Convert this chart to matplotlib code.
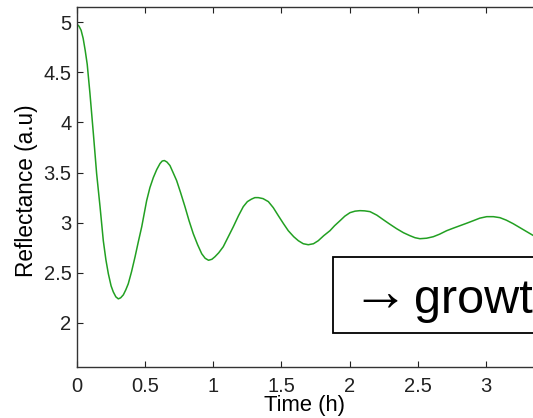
import matplotlib
matplotlib.use("Agg")
import matplotlib.pyplot as plt
from matplotlib.patches import Rectangle

plt.rcParams['font.family'] = ['Liberation Sans', 'DejaVu Sans']

# Data
time_h = [0.0, 0.015, 0.03, 0.045, 0.06, 0.075, 0.095, 0.12, 0.144, 0.169, 0.193,
          0.212, 0.23, 0.25, 0.266, 0.285, 0.303, 0.32, 0.34, 0.358, 0.376, 0.40,
          0.426, 0.45, 0.475, 0.511, 0.535, 0.56, 0.585, 0.609, 0.625, 0.641, 0.66,
          0.682, 0.705, 0.731, 0.76, 0.792, 0.822, 0.853, 0.885, 0.915, 0.94, 0.965,
          0.99, 1.012, 1.04, 1.073, 1.11, 1.147, 1.185, 1.22, 1.25, 1.28, 1.305,
          1.33, 1.365, 1.404, 1.44, 1.477, 1.515, 1.55, 1.59, 1.624, 1.66, 1.697,
          1.735, 1.77, 1.81, 1.856, 1.89, 1.93, 1.965, 2.003, 2.04, 2.076, 2.11,
          2.15, 2.2, 2.247, 2.295, 2.345, 2.395, 2.443, 2.48, 2.516, 2.565, 2.614,
          2.66, 2.712, 2.76, 2.81, 2.86, 2.908, 2.955, 3.006, 3.055, 3.103, 3.15,
          3.2, 3.25, 3.30, 3.35]
reflectance = [4.98, 4.96, 4.92, 4.84, 4.72, 4.58, 4.29, 3.89, 3.49, 3.16, 2.82,
               2.63, 2.49, 2.37, 2.31, 2.26, 2.24, 2.25, 2.28, 2.33, 2.39, 2.51,
               2.66, 2.81, 2.96, 3.22, 3.35, 3.45, 3.53, 3.59, 3.615, 3.62, 3.605,
               3.57, 3.50, 3.42, 3.30, 3.16, 3.02, 2.89, 2.78, 2.69, 2.645, 2.625,
               2.635, 2.66, 2.70, 2.76, 2.86, 2.96, 3.07, 3.16, 3.21, 3.235, 3.25,
               3.25, 3.24, 3.21, 3.15, 3.07, 2.99, 2.92, 2.86, 2.82, 2.79, 2.78,
               2.79, 2.82, 2.87, 2.92, 2.97, 3.02, 3.065, 3.10, 3.115, 3.12, 3.118,
               3.11, 3.075, 3.03, 2.985, 2.94, 2.90, 2.87, 2.85, 2.84, 2.845, 2.86,
               2.885, 2.92, 2.945, 2.97, 2.995, 3.02, 3.045, 3.06, 3.06, 3.05, 3.025,
               2.99, 2.95, 2.91, 2.87]
x_ticks = [0, 0.5, 1, 1.5, 2, 2.5, 3]
x_tick_labels = ['0', '0.5', '1', '1.5', '2', '2.5', '3']
y_ticks = [2, 2.5, 3, 3.5, 4, 4.5, 5]
y_tick_labels = ['2', '2.5', '3', '3.5', '4', '4.5', '5']
arrow_text = '\u2192'
word_text = 'growth'

W, H = 533, 418
fig = plt.figure(figsize=(W / 100, H / 100), dpi=100)
xmax = 3.5
px_per_unit = 136.3
ax_w = xmax * px_per_unit
ax = fig.add_axes([77 / W, 1 - 367 / H, ax_w / W, 360 / H])

ax.plot(time_h, reflectance, color='#22a022', linewidth=1.1)
ax.set_xlim(0, xmax)
ax.set_ylim(1.56, 5.152)
ax.set_xticks(x_ticks)
ax.set_xticklabels(x_tick_labels)
ax.set_yticks(y_ticks)
ax.set_yticklabels(y_tick_labels)
ax.tick_params(direction='in', top=True, right=True, length=4, width=0.8,
               labelsize=14.5, colors='#222222')
ax.tick_params(axis='x', pad=7)
ax.tick_params(axis='y', pad=4)
for s in ax.spines.values():
    s.set_color('#333333')
    s.set_linewidth(1.0)

ax.set_xlabel('Time (h)', fontsize=15.8)
ax.xaxis.set_label_coords((304 - 77) / ax_w, -(395 - 367) / 360)
ax.set_ylabel('Reflectance (a.u)', fontsize=16.3)
ax.yaxis.set_label_coords((38 - 77) / ax_w, 0.49)

# annotation box (cut at the right edge, as in the reference)
fig.add_artist(Rectangle((333 / W, 1 - 333 / H), 300 / W, 76 / H,
                         transform=fig.transFigure, facecolor='white',
                         edgecolor='black', linewidth=1.3))
fig.text(351 / W, 1 - 296 / H, arrow_text, fontsize=41, fontweight='bold',
         ha='left', va='center')
fig.text(414 / W, 1 - 313 / H, word_text, fontsize=35, ha='left', va='baseline')

fig.savefig('out.png', dpi=100)
